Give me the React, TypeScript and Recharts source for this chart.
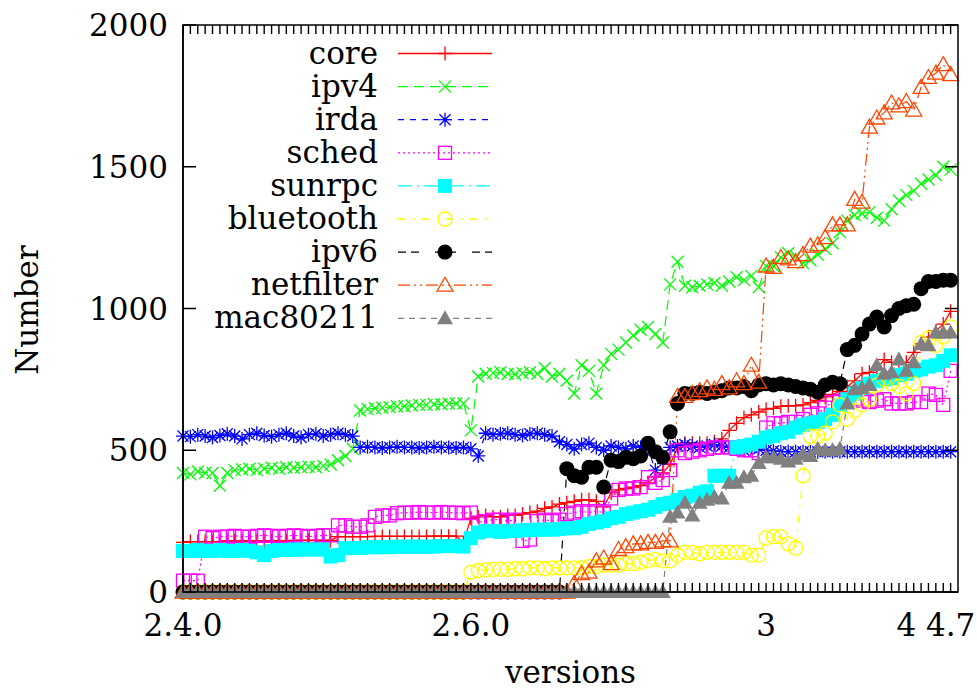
import React from 'react';
import { LineChart, Line, XAxis, YAxis, Legend } from 'recharts';

const W = 977;
const H = 692;
const FONT = "'DejaVu Serif', 'Liberation Serif', 'Noto Serif', serif";
const PLOT_LEFT = 183;
const PLOT_TOP = 25;
const PLOT_RIGHT = 958;
const PLOT_BOTTOM = 592;
const X_MAX = 105;
const Y_MAX = 2000;

const xTickIndex = [0, 39, 79, 98, 104];
const xTickLabel = ['2.4.0', '2.6.0', '3', '4', '4.7'];
const yTicks = [0, 500, 1000, 1500, 2000];

const core = [
  175, 178, 178, 178, 178, 178, 180, 180, 180, 180, 180, 180, 180, 180, 180, 182, 182, 182, 182, 182, 182,
  195, 195, 195, 195, 195, 196, 196, 196, 196, 196, 196, 196, 196, 197, 197, 197, 197, 175,
  260, 265, 270, 265, 265, 270, 270, 275, 280, 285, 295, 300, 310, 315, 320, 325, 325, 320, 300, 350,
  360, 365, 370, 375, 385, 405, 420, 450, 510, 525, 525, 525, 525, 530, 540, 570, 595, 615, 625, 635,
  645, 648, 655, 657, 657, 660, 668, 676, 688, 697, 708, 725, 745, 770, 775, 785, 820, 810, 808, 810,
  845, 875, 900, 920, 945, 990,
];

const ipv4 = [
  420, 415, 425, 420, 420, 375, 420,
  430, 432, 435, 430, 435, 438, 435, 440, 438, 440, 442, 440, 445,
  450, 465, 480, 505,
  640, 645, 648, 650, 652, 655, 655, 658, 660, 660, 662, 662, 665, 665, 665,
  570,
  760, 770, 772, 775, 770, 768, 772, 775, 770,
  790, 760, 770, 745, 700, 800, 780, 700, 800, 840, 855, 880, 905, 925, 935, 910, 880, 1085, 1165,
  1080, 1075, 1080, 1085, 1090, 1080, 1095, 1110, 1100, 1115, 1075, 1150, 1150, 1180, 1195, 1185,
  1160, 1170, 1190, 1210, 1230, 1270, 1310, 1330, 1335, 1340, 1320, 1310, 1350, 1380, 1400, 1415,
  1440, 1455, 1470, 1500, 1490,
];

const irda = [
  550, 548, 555, 550, 545, 552, 558, 550, 540, 555, 560, 552, 548, 555, 560, 550, 545, 555, 558, 550,
  555, 560, 555, 550,
  510, 512, 510, 508, 510, 512, 510, 510, 508, 510, 512, 510, 510, 508, 510, 505,
  480,
  560, 555, 558, 560, 555, 552, 558, 560, 555, 550,
  530, 520, 505, 520, 525,
  510, 500, 515, 510, 505, 515, 510, 505,
  430, 470,
  510, 515, 520, 515, 510, 515, 520, 515, 510, 505, 500, 510, 505, 500, 498,
  495, 495, 495, 495, 495, 495, 495, 495, 495, 495, 495, 495, 495, 495, 495, 495, 495, 495, 495, 495,
  495, 495, 495, 495,
];

const sched = [
  40, 40, 40,
  195, 190, 195, 195, 198, 195, 195, 198, 200, 198, 195, 198, 200, 198, 195, 198, 200, 200,
  235, 235, 230, 230, 235,
  265, 270, 270,
  278, 280, 280, 282, 280, 280, 282, 280, 280, 278, 280,
  245, 250, 255, 255, 250, 255,
  180, 185,
  250, 255, 250, 255,
  275, 280, 285, 280, 285, 280,
  330, 360, 365, 365, 370, 405, 385, 395, 430,
  500, 490, 495, 500, 505, 510, 510, 510, 505, 500, 500, 490,
  580, 595, 595, 600, 600, 610, 625, 630, 650, 670, 675, 680, 680, 675, 670, 675, 680, 665, 665, 665,
  670, 670, 700, 695, 660, 780,
];

const sunrpc = [
  145, 145, 148, 145, 145, 148, 145, 145, 148, 145, 140,
  130,
  145, 148, 148, 150, 150, 150, 150, 150, 125,
  130, 155, 155, 155, 158, 158, 158, 158, 160, 160, 160, 160, 160,
  160, 162, 162, 162, 160,
  190, 210,
  215, 215, 212, 215, 215, 218, 218, 220, 220, 220, 222, 225, 225, 230,
  240, 245, 250, 260, 265, 275, 280, 285, 290, 300, 310, 315, 325, 335, 340, 350, 355, 410, 410, 410,
  510, 515, 520, 530, 545, 550, 560, 565, 580, 590, 595, 600, 610, 625, 660, 680, 700, 720, 735, 745,
  750, 755, 765, 770, 780, 785, 795, 800, 815, 835,
];

const bluetooth = [
  0, 0, 0, 0, 0, 0, 0, 0, 0, 0, 0, 0, 0, 0, 0, 0, 0, 0, 0, 0,
  0, 0, 0, 0, 0, 0, 0, 0, 0, 0, 0, 0, 0, 0, 0, 0, 0, 0, 0,
  70, 75, 78, 80, 80, 80, 82, 82, 85, 85, 82, 85, 85, 85, 85, 85,
  90, 90, 95, 95, 95, 100, 100, 105, 110, 115, 110, 110, 130, 140, 140, 135, 140, 140, 140, 140,
  140, 140, 130, 130, 190, 195, 195, 170, 155, 410, 550, 550, 560, 600, 660, 610, 640, 660, 680, 730,
  750, 735, 725, 700, 735, 880, 895, 870, 900, 935,
];

const ipv6 = [
  0, 0, 0, 0, 0, 0, 0, 0, 0, 0, 0, 0, 0, 0, 0, 0, 0, 0, 0, 0,
  0, 0, 0, 0, 0, 0, 0, 0, 0, 0, 0, 0, 0, 0, 0, 0, 0, 0, 0, 0,
  0, 0, 0, 0, 0, 0, 0, 0, 0, 0, 0, 0,
  435, 410, 405, 440, 440, 370, 465, 460, 475, 470, 480, 525, 495, 475, 565, 665, 700, 700, 705, 700,
  705, 710, 720, 720, 725, 710, 730, 735, 730, 735, 730, 725, 720, 715, 705, 730, 740, 735, 855, 870,
  910, 945, 970, 935, 975, 1000, 1010, 1015, 1070, 1095, 1095, 1100, 1100,
];

const netfilter = [
  0, 0, 0, 0, 0, 0, 0, 0, 0, 0, 0, 0, 0, 0, 0, 0, 0, 0, 0, 0,
  0, 0, 0, 0, 0, 0, 0, 0, 0, 0, 0, 0, 0, 0, 0, 0, 0, 0, 0, 0,
  0, 0, 0, 0, 0, 0, 0, 0, 0, 0, 0, 0, 0,
  30, 65, 70, 110, 120, 100, 150, 160, 170, 170, 175, 175, 180, 180, 690, 690, 700, 710, 720, 715,
  735, 720, 745, 735, 800, 740, 1150, 1145, 1180, 1175, 1165, 1190, 1220, 1225, 1250, 1295, 1295, 1295,
  1385, 1375, 1640, 1672, 1690, 1725, 1715, 1730, 1700, 1780, 1815, 1830, 1860, 1825,
];

const mac80211 = [
  0, 0, 0, 0, 0, 0, 0, 0, 0, 0, 0, 0, 0, 0, 0, 0, 0, 0, 0, 0,
  0, 0, 0, 0, 0, 0, 0, 0, 0, 0, 0, 0, 0, 0, 0, 0, 0, 0, 0, 0,
  0, 0, 0, 0, 0, 0, 0, 0, 0, 0, 0, 0, 0, 0, 0, 0, 0, 0, 0, 0,
  0, 0, 0, 0, 0, 0,
  265, 280, 315, 270, 315, 325, 335, 330, 385, 385, 405, 410, 455, 475, 475, 470, 460, 470, 485, 480,
  505, 500, 500, 505, 665, 715, 720, 730, 800, 770, 775, 820, 780, 810, 875, 870, 915, 915, 915,
];

const seriesNames = ['core', 'ipv4', 'irda', 'sched', 'sunrpc', 'bluetooth', 'ipv6', 'netfilter', 'mac80211'];
const seriesValues = [core, ipv4, irda, sched, sunrpc, bluetooth, ipv6, netfilter, mac80211];
const seriesColors = ['#ff0000', '#00ff00', '#0000ff', '#ff00ff', '#00ffff', '#ffff00', '#000000', '#ff4500', '#808080'];
const seriesDash = ['', '10 6', '6 6', '2 3', '14 5 2 5', '8 7 2 7', '8 5 8 16', '12 4 2 4 2 4', '6 5'];
const seriesMarker = ['plus', 'cross', 'star', 'box', 'boxf', 'circle', 'circlef', 'tri', 'trif'];

const versionIndex = core.map((_, i) => i);
const data = versionIndex.map((i) => {
  const row: Record<string, number> = { i };
  seriesNames.forEach((n, k) => {
    row[n] = seriesValues[k][i];
  });
  return row;
});

const textStyle = { fontFamily: FONT };
const TICK_FS = 31;

function Marker({ shape, cx, cy, color }: { shape: string; cx: number; cy: number; color: string }) {
  if (cx == null || cy == null || isNaN(cx) || isNaN(cy)) return null;
  const sw = 1.3;
  switch (shape) {
    case 'plus':
      return <path d={`M${cx - 7},${cy}H${cx + 7}M${cx},${cy - 7}V${cy + 7}`} stroke={color} strokeWidth={sw} fill="none" />;
    case 'cross':
      return <path d={`M${cx - 6},${cy - 6}L${cx + 6},${cy + 6}M${cx - 6},${cy + 6}L${cx + 6},${cy - 6}`} stroke={color} strokeWidth={sw} fill="none" />;
    case 'star':
      return (
        <path
          d={`M${cx - 7},${cy}H${cx + 7}M${cx},${cy - 7}V${cy + 7}M${cx - 5.5},${cy - 5.5}L${cx + 5.5},${cy + 5.5}M${cx - 5.5},${cy + 5.5}L${cx + 5.5},${cy - 5.5}`}
          stroke={color}
          strokeWidth={sw}
          fill="none"
        />
      );
    case 'box':
      return <rect x={cx - 6.5} y={cy - 6.5} width={13} height={13} stroke={color} strokeWidth={sw} fill="none" />;
    case 'boxf':
      return <rect x={cx - 7} y={cy - 7} width={14} height={14} fill={color} />;
    case 'circle':
      return <circle cx={cx} cy={cy} r={7} stroke={color} strokeWidth={sw} fill="none" />;
    case 'circlef':
      return <circle cx={cx} cy={cy} r={7.5} fill={color} />;
    case 'tri':
      return <path d={`M${cx},${cy - 8}L${cx + 8},${cy + 6}L${cx - 8},${cy + 6}Z`} stroke={color} strokeWidth={sw} fill="none" />;
    case 'trif':
      return <path d={`M${cx},${cy - 8}L${cx + 8},${cy + 6}L${cx - 8},${cy + 6}Z`} fill={color} />;
    default:
      return null;
  }
}

const BottomTick = (props: any) => {
  const { x, y, payload } = props;
  const k = xTickIndex.indexOf(payload.value);
  return (
    <g>
      <line x1={x} y1={y} x2={x} y2={y - 9} stroke="#000" strokeWidth={1.4} />
      {k >= 0 && (
        <text x={x} y={y + 44} textAnchor="middle" style={textStyle} fontSize={TICK_FS} fill="#000">
          {xTickLabel[k]}
        </text>
      )}
    </g>
  );
};

const LeftTick = (props: any) => {
  const { x, y, payload } = props;
  return (
    <g>
      <line x1={x} y1={y} x2={x + 13} y2={y} stroke="#000" strokeWidth={1.5} />
      <text x={x - 15} y={y + 11} textAnchor="end" style={textStyle} fontSize={TICK_FS} fill="#000">
        {payload.value}
      </text>
    </g>
  );
};

const legendX0 = 398;
const legendX1 = 492;
const legendTextX = 378;
const legendY0 = 53.5;
const legendStep = 33.1;

const xPix = (i: number) => PLOT_LEFT + (i / X_MAX) * (PLOT_RIGHT - PLOT_LEFT);
const yPix = (v: number) => PLOT_BOTTOM - (v / Y_MAX) * (PLOT_BOTTOM - PLOT_TOP);

// mirrored (top / right) border and ticks of the gnuplot frame
const Frame = () => (
  <g>
    <rect x={PLOT_LEFT} y={PLOT_TOP} width={PLOT_RIGHT - PLOT_LEFT} height={PLOT_BOTTOM - PLOT_TOP} fill="none" stroke="#000" strokeWidth={1.5} />
    {versionIndex.map((i) => (
      <line key={`tt${i}`} x1={xPix(i)} y1={PLOT_TOP} x2={xPix(i)} y2={PLOT_TOP + 9} stroke="#000" strokeWidth={1.4} />
    ))}
    {yTicks.map((v) => (
      <line key={`rt${v}`} x1={PLOT_RIGHT} y1={yPix(v)} x2={PLOT_RIGHT - 13} y2={yPix(v)} stroke="#000" strokeWidth={1.5} />
    ))}
  </g>
);

const LegendContent = () => (
  <svg width={W} height={H} style={{ display: 'block', overflow: 'visible' }}>
    {seriesNames.map((n, k) => {
      const y = legendY0 + k * legendStep;
      return (
        <g key={n}>
          <text x={legendTextX} y={y + 10} textAnchor="end" style={textStyle} fontSize={31} fill="#000">
            {n}
          </text>
          <line
            x1={legendX0}
            y1={y}
            x2={legendX1}
            y2={y}
            stroke={seriesColors[k]}
            strokeWidth={1.3}
            strokeDasharray={seriesDash[k] || undefined}
          />
          <Marker shape={seriesMarker[k]} cx={(legendX0 + legendX1) / 2} cy={y} color={seriesColors[k]} />
        </g>
      );
    })}
  </svg>
);

export default function App() {
  return (
    <div style={{ position: 'absolute', left: 0, top: 0, width: W, height: H }}>
      <LineChart
        width={W}
        height={H}
        data={data}
        margin={{ top: PLOT_TOP, right: W - PLOT_RIGHT, bottom: 0, left: 83 }}
      >
        <XAxis
          xAxisId="bottom"
          dataKey="i"
          type="number"
          domain={[0, X_MAX]}
          ticks={versionIndex}
          interval={0}
          height={H - PLOT_BOTTOM}
          tickSize={0}
          tickMargin={0}
          tick={<BottomTick />}
          tickLine={false}
          axisLine={{ stroke: '#000', strokeWidth: 1.5 }}
          label={{
            content: (p: any) => {
              const vb = p.viewBox || { x: 183, y: 592, width: 775, height: 100 };
              return (
                <text x={vb.x + vb.width / 2} y={683} textAnchor="middle" style={textStyle} fontSize={TICK_FS} fill="#000">
                  versions
                </text>
              );
            },
          }}
        />
        <YAxis
          yAxisId="left"
          type="number"
          domain={[0, Y_MAX]}
          ticks={yTicks}
          interval={0}
          width={100}
          tickSize={0}
          tickMargin={0}
          tick={<LeftTick />}
          tickLine={false}
          axisLine={{ stroke: '#000', strokeWidth: 1.5 }}
          label={{
            content: () => (
              <text x={38} y={310} transform="rotate(-90 38 310)" textAnchor="middle" style={textStyle} fontSize={TICK_FS} fill="#000">
                Number
              </text>
            ),
          }}
        />
        <Legend
          layout="vertical"
          align="center"
          verticalAlign="middle"
          content={() => <LegendContent />}
          wrapperStyle={{ position: 'absolute', left: 0, top: 0, width: W, height: H, pointerEvents: 'none' }}
        />
        {seriesNames.map((n, k) => (
          <Line
            key={n}
            xAxisId="bottom"
            yAxisId="left"
            type="linear"
            dataKey={n}
            stroke={seriesColors[k]}
            strokeWidth={1.2}
            strokeDasharray={seriesDash[k] || undefined}
            isAnimationActive={false}
            activeDot={false}
            dot={(p: any) => (
              <Marker key={`${n}-${p.index}`} shape={seriesMarker[k]} cx={p.cx} cy={p.cy} color={seriesColors[k]} />
            )}
          />
        ))}
      </LineChart>
      <svg
        width={W}
        height={H}
        style={{ position: 'absolute', left: 0, top: 0, zIndex: 5, pointerEvents: 'none', overflow: 'visible' }}
      >
        <Frame />
      </svg>
    </div>
  );
}
